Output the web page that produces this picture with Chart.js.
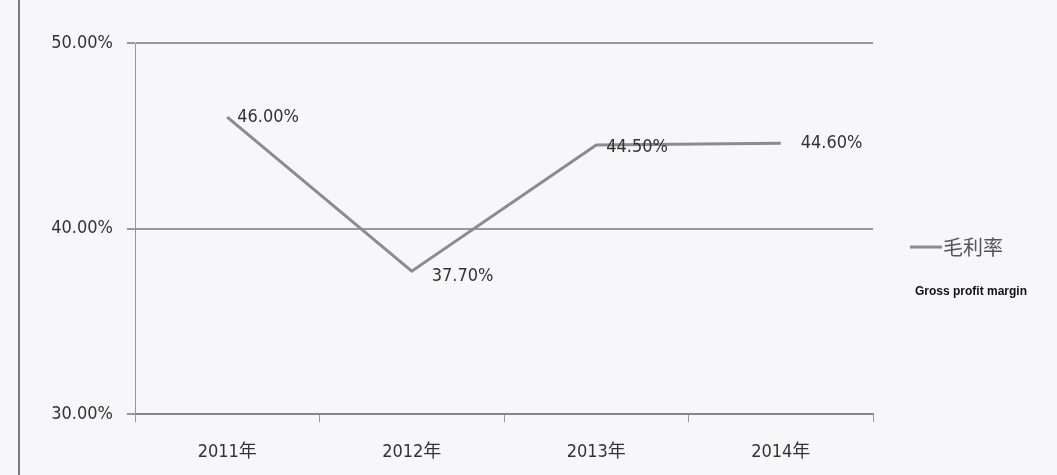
<!DOCTYPE html>
<html>
<head>
<meta charset="utf-8">
<script src="https://cdn.jsdelivr.net/npm/chart.js@4"></script>
<style>
  html, body { margin: 0; padding: 0; background: #f7f7f9; }
  #wrap { position: relative; width: 1057px; height: 475px; }
  #edge { position: absolute; left: 18px; top: 0; width: 2px; height: 475px; background: #7a7a7a; }
</style>
</head>
<body>
<div id="wrap">
  <canvas id="marginChart" width="1057" height="475"></canvas>
  <div id="edge"></div>
</div>
<script>
var years = ['2011年', '2012年', '2013年', '2014年'];
var grossMargin = [46.0, 37.7, 44.5, 44.6];
var yTicks = [30, 40, 50];
var seriesName = '毛利率';
var legendNote = 'Gross profit margin';

var fontFamily = '"Liberation Sans Narrow", "DejaVu Sans Condensed", "Noto Sans CJK SC", sans-serif';
var labelShift = [[10, 0], [20, 5], [10, 2], [20, 0]];

var extras = {
    id: 'extras',
    afterDatasetsDraw: function (chart) {
        var ctx = chart.ctx;
        var meta = chart.getDatasetMeta(0);
        ctx.save();
        ctx.font = '18px ' + fontFamily;
        ctx.fillStyle = '#333';
        ctx.textBaseline = 'middle';
        meta.data.forEach(function (pt, i) {
            ctx.fillText(grossMargin[i].toFixed(2) + '%', pt.x + labelShift[i][0], pt.y + labelShift[i][1]);
        });

        // legend on the right
        var lx = chart.chartArea.right + 37;
        var ly = chart.scales.y.getPixelForValue(39);
        ctx.strokeStyle = '#8c8c8c';
        ctx.lineWidth = 3;
        ctx.beginPath();
        ctx.moveTo(lx, ly);
        ctx.lineTo(lx + 32, ly);
        ctx.stroke();
        ctx.font = '20px "Noto Sans CJK SC", sans-serif';
        ctx.fillStyle = '#555';
        ctx.fillText(seriesName, lx + 33, ly);
        ctx.font = 'bold 12px "Liberation Sans", Arial, sans-serif';
        ctx.fillStyle = '#111';
        ctx.fillText(legendNote, lx + 5, ly + 45);
        ctx.restore();
    }
};

var ctx = document.getElementById('marginChart').getContext('2d');
var marginChart = new Chart(ctx, {
    type: 'line',
    data: {
        labels: years,
        datasets: [{
            label: seriesName,
            data: grossMargin,
            borderColor: '#8c8c8c',
            borderWidth: 3,
            pointRadius: 0,
            tension: 0,
            fill: false
        }]
    },
    options: {
        responsive: false,
        animation: false,
        layout: { padding: { left: 20, right: 184, top: 43, bottom: 0 } },
        plugins: {
            legend: { display: false },
            tooltip: { enabled: false }
        },
        scales: {
            x: {
                offset: true,
                grid: { offset: true, drawOnChartArea: false, drawTicks: true, tickLength: 8, color: '#999' },
                border: { display: true, color: '#888', width: 2 },
                ticks: { color: '#333', padding: 20, font: { size: 18, family: fontFamily } },
                afterFit: function (axis) { axis.height = 61; }
            },
            y: {
                min: yTicks[0],
                max: yTicks[yTicks.length - 1],
                afterBuildTicks: function (axis) {
                    axis.ticks = yTicks.map(function (v) { return { value: v }; });
                },
                grid: { color: '#999', lineWidth: 2, tickLength: 8 },
                border: { display: true, color: '#999', width: 1 },
                ticks: {
                    color: '#333',
                    padding: 14,
                    font: { size: 18, family: fontFamily },
                    callback: function (v) { return v.toFixed(2) + '%'; }
                },
                afterFit: function (axis) { axis.width = 115; }
            }
        }
    },
    plugins: [extras]
});
</script>
</body>
</html>
